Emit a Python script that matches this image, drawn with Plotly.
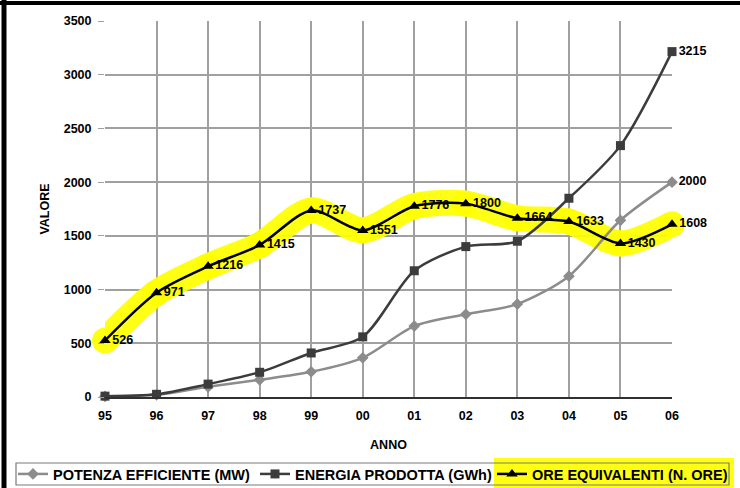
import plotly.graph_objects as go

anni = ["95", "96", "97", "98", "99", "00", "01", "02", "03", "04", "05", "06"]
potenza = [5, 20, 95, 160, 235, 365, 660, 770, 865, 1125, 1645, 2000]
energia = [8, 25, 120, 230, 410, 560, 1175, 1400, 1450, 1850, 2340, 3215]
ore = [526, 971, 1216, 1415, 1737, 1551, 1776, 1800, 1664, 1633, 1430, 1608]

FONT = "Liberation Sans"
LBL = dict(family=FONT, size=12.5, color="black", weight="bold")
YEL = "rgba(255,255,0,0.92)"

def last_only(vals):
    return [""] * (len(vals) - 1) + [str(vals[-1])]

fig = go.Figure()

# yellow highlight behind ore line
fig.add_trace(go.Scatter(
    x=anni, y=ore, mode="lines+markers", showlegend=False, hoverinfo="skip",
    cliponaxis=False,
    line=dict(color=YEL, width=26, shape="spline", smoothing=0.8),
    marker=dict(symbol="circle", size=26, color=YEL, line=dict(width=0)),
))

fig.add_trace(go.Scatter(
    x=anni, y=potenza, mode="lines+markers+text", name="POTENZA EFFICIENTE (MW)",
    legend="legend",
    line=dict(color="#8c8c8c", width=2.5, shape="spline", smoothing=0.8),
    marker=dict(symbol="diamond", size=9, color="#8c8c8c"),
    text=last_only(potenza), textposition="middle right", cliponaxis=False,
    textfont=LBL,
))
fig.add_trace(go.Scatter(
    x=anni, y=energia, mode="lines+markers+text", name="ENERGIA PRODOTTA (GWh)",
    legend="legend2",
    line=dict(color="#3c3c3c", width=2.5, shape="spline", smoothing=0.8),
    marker=dict(symbol="square", size=9, color="#3c3c3c"),
    text=last_only(energia), textposition="middle right", cliponaxis=False,
    textfont=LBL,
))
fig.add_trace(go.Scatter(
    x=anni, y=ore, mode="lines+markers+text", name="ORE EQUIVALENTI (N. ORE)",
    legend="legend3",
    line=dict(color="black", width=2.5, shape="spline", smoothing=0.8),
    marker=dict(symbol="triangle-up", size=10, color="black"),
    text=[str(v) for v in ore], textposition="middle right", cliponaxis=False,
    textfont=LBL,
))

W, H = 740, 488
L, R, T, B = 105, 68, 21, 91
pw, ph = W - L - R, H - T - B

def px(x):
    return (x - L) / pw

def py(y):
    return (H - B - y) / ph

def leg(xpix):
    return dict(
        orientation="h", x=px(xpix), xanchor="left", y=py(474), yanchor="middle",
        bgcolor="rgba(0,0,0,0)", borderwidth=0,
        font=dict(family=FONT, size=14.5, color="black", weight="bold"),
        itemwidth=30,
    )

fig.update_layout(
    width=W, height=H,
    margin=dict(l=L, r=R, t=T, b=B, autoexpand=False),
    paper_bgcolor="white", plot_bgcolor="white",
    font=dict(family=FONT, size=12, color="black"),
    showlegend=True,
    legend=leg(13), legend2=leg(255), legend3=leg(492),
    xaxis=dict(
        type="category", range=[0, len(anni) - 1], automargin=False,
        showgrid=True, gridcolor="#a0a0a0", gridwidth=1.5,
        showline=True, linecolor="#303030", linewidth=2,
        ticks="", ticklabelstandoff=6,
        tickfont=dict(family=FONT, size=12.5, weight="bold"),
        title=dict(text="ANNO", font=dict(family=FONT, size=12.5, weight="bold"), standoff=18),
        zeroline=False,
    ),
    yaxis=dict(
        range=[0, 3500], dtick=500, automargin=False,
        showgrid=True, gridcolor="#a0a0a0", gridwidth=1.5,
        showline=False, zeroline=False,
        ticks="outside", ticklen=6, tickcolor="#a0a0a0", ticklabelstandoff=4,
        tickfont=dict(family=FONT, size=12.5, weight="bold"),
        title=dict(text="VALORE", font=dict(family=FONT, size=12.5, weight="bold"), standoff=11),
    ),
    shapes=[
        dict(type="line", xref="paper", yref="paper", x0=px(4), x1=px(4), y0=py(0), y1=py(H),
             line=dict(color="black", width=5)),
        dict(type="line", xref="paper", yref="paper", x0=px(0), x1=px(W), y0=py(3), y1=py(3),
             line=dict(color="black", width=4)),
        dict(type="rect", xref="paper", yref="paper", x0=px(494), x1=px(734), y0=py(488), y1=py(458),
             fillcolor=YEL, line=dict(width=0), layer="below"),
        dict(type="rect", xref="paper", yref="paper", x0=px(16), x1=px(729), y0=py(485), y1=py(463),
             fillcolor="rgba(0,0,0,0)", line=dict(color="#7a7a7a", width=1.2), layer="above"),
    ],
)

fig.write_html("out.html", config={"displayModeBar": False},
               post_script="document.body.style.margin='0';")
